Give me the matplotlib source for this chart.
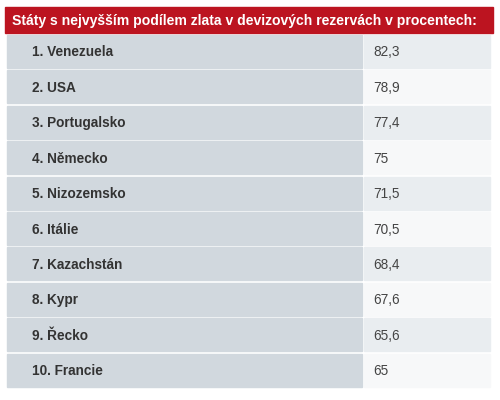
import matplotlib
matplotlib.use("Agg")
import matplotlib.pyplot as plt
from matplotlib.patches import Rectangle

title = "Státy s nejvyšším podílem zlata v devizových rezervách v procentech:"
countries = ["Venezuela", "USA", "Portugalsko", "Německo", "Nizozemsko", "Itálie",
             "Kazachstán", "Kypr", "Řecko", "Francie"]
values = ["82,3", "78,9", "77,4", "75", "71,5", "70,5", "68,4", "67,6", "65,6", "65"]

W, H = 500, 400
fig = plt.figure(figsize=(5, 4), dpi=100)
ax = fig.add_axes([0, 0, 1, 1])
ax.set_xlim(0, W); ax.set_ylim(H, 0); ax.axis("off")

ax.add_patch(Rectangle((5, 7), 488, 26, color="#bc1420"))
ax.text(12, 20.5, title, color="white", fontsize=10.1, fontweight="bold", va="center",
        family="Liberation Sans")
y0, pitch, h = 35, 35.4, 33
for i, (c, v) in enumerate(zip(countries, values)):
    y = y0 + i * pitch
    ax.add_patch(Rectangle((7, y), 355, h, color="#d1d8de"))
    ax.add_patch(Rectangle((364, y), 126, h, color="#e9edf0" if i % 2 == 0 else "#f7f8f9"))
    ax.text(32, y + h / 2 + 1, f"{i+1}. {c}", fontsize=9.8, fontweight="bold", color="#333333",
            va="center", family="Liberation Sans")
    ax.text(373, y + h / 2 + 1, v, fontsize=9.8, color="#444444", va="center",
            family="Liberation Sans")
fig.savefig("out.png", dpi=100)
